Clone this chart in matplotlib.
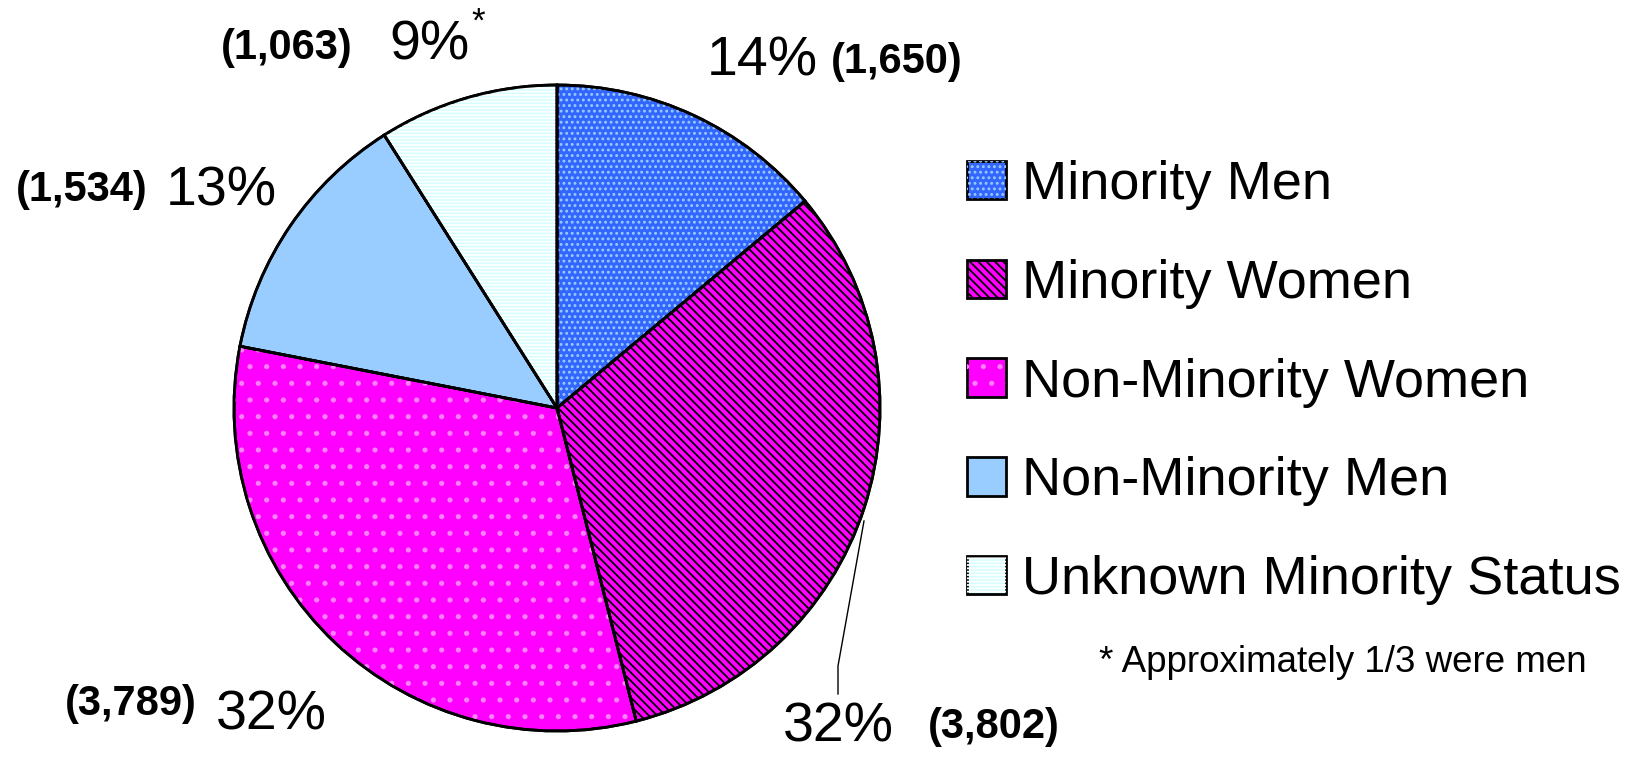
import matplotlib
matplotlib.use('Agg')
import matplotlib.pyplot as plt
from matplotlib.patches import Patch

plt.rcParams['font.family'] = ['Liberation Sans', 'DejaVu Sans']

# data
categories = ['Minority Men', 'Minority Women', 'Non-Minority Women',
              'Non-Minority Men', 'Unknown Minority Status']
counts = [1650, 3802, 3789, 1534, 1063]
footnote = '* Approximately 1/3 were men'

# styles
face_colors = ['#3366FF', '#FF00FF', '#FF00FF', '#99CCFF', '#D5FFFF']
hatch_colors = ['#99CCFF', '#000000', '#FF80FF', '#99CCFF', '#FFFFFF']
hatches = ['...', '\\\\\\\\', '.', '', '-----']

W, H = 1649, 761
cx, cy, r = 557, 408, 323  # pie centre and radius in pixels


def px(x, y):
    # pixel position (from top left) -> data coords of the pie axes
    return (x - cx) / r, (cy - y) / r


plt.rcParams['hatch.linewidth'] = 1.3
fig = plt.figure(figsize=(W / 100, H / 100), dpi=100)
ax = fig.add_axes([0, 0, 1, 1])

# base wedges
wedges, _ = ax.pie(counts, colors=face_colors, startangle=90, counterclock=False,
                   radius=1, wedgeprops=dict(edgecolor='black', linewidth=2))
# hatch overlays
over, _ = ax.pie(counts, colors=['none'] * 5, startangle=90, counterclock=False,
                 radius=1, wedgeprops=dict(linewidth=0))
for w, hc, h in zip(over, hatch_colors, hatches):
    w.set_facecolor('none')
    w.set_edgecolor(hc)
    w.set_hatch(h)
# redraw outlines on top
outl, _ = ax.pie(counts, colors=['none'] * 5, startangle=90, counterclock=False,
                 radius=1, wedgeprops=dict(edgecolor='black', linewidth=2, fill=False))

ax.set_xlim(-cx / r, (W - cx) / r)
ax.set_ylim((cy - H) / r, cy / r)
ax.axis('off')

total = sum(counts)
pcts = [f'{round(100 * c / total)}%' for c in counts]
cnts = [f'({c:,})' for c in counts]

big = 40
small = 30

# Minority Men
ax.text(*px(762, 62), pcts[0], fontsize=big, ha='center', va='center')
ax.text(*px(897, 62), cnts[0], fontsize=small, fontweight='bold', ha='center', va='center')
# Minority Women
ax.text(*px(838, 727), pcts[1], fontsize=big, ha='center', va='center')
ax.text(*px(994, 727), cnts[1], fontsize=small, fontweight='bold', ha='center', va='center')
ax.plot(*zip(px(864, 521), px(838, 666), px(838, 694)), color='black', lw=1)
# Non-Minority Women
ax.text(*px(271, 715), pcts[2], fontsize=big, ha='center', va='center')
ax.text(*px(131, 704), cnts[2], fontsize=small, fontweight='bold', ha='center', va='center')
# Non-Minority Men
ax.text(*px(221, 192), pcts[3], fontsize=big, ha='center', va='center')
ax.text(*px(82, 190), cnts[3], fontsize=small, fontweight='bold', ha='center', va='center')
# Unknown
ax.text(*px(429, 46), pcts[4], fontsize=big, ha='center', va='center')
ax.text(*px(478, 22), '*', fontsize=25, ha='center', va='center')
ax.text(*px(287, 48), cnts[4], fontsize=small, fontweight='bold', ha='center', va='center')

# legend
handles = []
for fc, hc, h in zip(face_colors, hatch_colors, hatches):
    base = Patch(facecolor=fc, edgecolor='black', linewidth=2)
    hp = Patch(facecolor='none', edgecolor=hc, hatch=h, linewidth=0)
    handles.append((base, hp))
leg = ax.legend(handles, categories, loc='upper left',
                bbox_to_anchor=(967 / W, 1 - 160 / H), bbox_transform=fig.transFigure,
                frameon=False, fontsize=39, borderpad=0, borderaxespad=0,
                handlelength=0.72, handleheight=0.72, handletextpad=0.3,
                labelspacing=0.9)

ax.text(*px(1099, 662), footnote, fontsize=26.5, ha='left', va='center')

fig.savefig('out.png', dpi=100)
